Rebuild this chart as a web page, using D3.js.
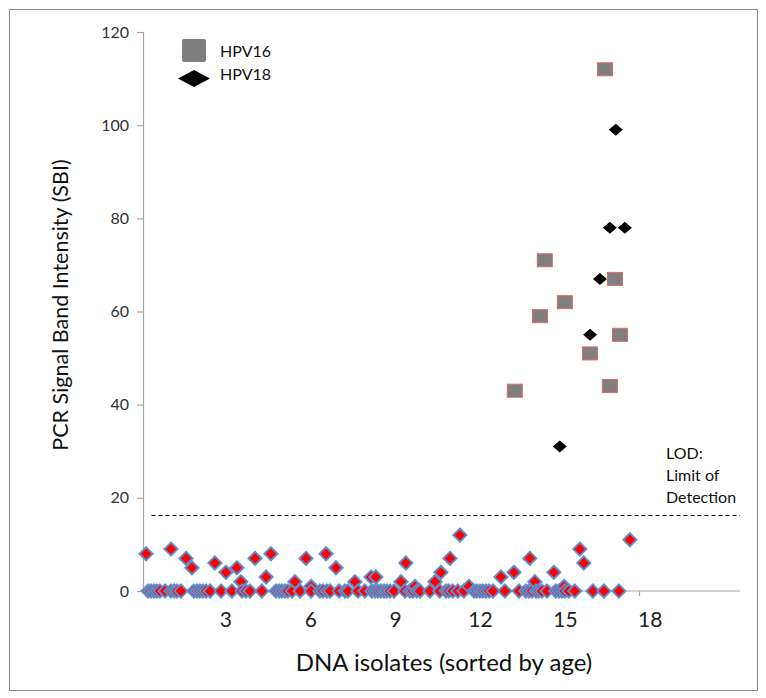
<!DOCTYPE html>
<html>
<head>
<meta charset="utf-8">
<script src="https://cdn.jsdelivr.net/npm/d3@7"></script>
<style>
  html, body { margin: 0; padding: 0; background: #fff; }
  svg { display: block; font-family: Lato, "Open Sans", sans-serif; }
</style>
</head>
<body>
<svg id="chart" width="766" height="698"></svg>
<script>
// HPV PCR signal by DNA isolate (sorted by age)
// x in isolate-axis units (same units as the 3..18 labels), y in SBI

// HPV16 positives
const hpv16X = [16.33, 14.2, 14.03, 14.91, 13.14, 16.68, 15.8, 16.86, 16.5];
const hpv16SBI = [112, 71, 59, 62, 43, 67, 51, 55, 44];

// HPV18 positives
const hpv18X = [16.71, 16.5, 17.03, 16.15, 15.8, 14.73];
const hpv18SBI = [99, 78, 78, 67, 55, 31];

// below-LOD isolates with a faint signal
const lowX = [0.11, 0.99, 1.52, 1.73, 2.54, 2.93, 3.32, 3.46, 3.96, 4.35, 4.52, 5.37,
  5.76, 5.94, 6.47, 6.82, 7.49, 8.06, 8.23, 9.12, 9.29, 9.61, 10.32, 10.53, 10.85,
  11.2, 11.52, 12.65, 13.11, 13.67, 13.85, 14.52, 14.88, 15.44, 15.58, 17.21];
const lowSBI = [8, 9, 7, 5, 6, 4, 5, 2, 7, 3, 8, 2, 7, 1, 8, 5, 2, 3, 3, 2, 6, 1, 2, 4, 7,
  12, 1, 3, 4, 7, 2, 4, 1, 9, 6, 11];

// isolates with no signal (SBI = 0)
const zeroX = [0.18, 0.28, 0.39, 0.49, 0.6, 0.78, 0.99, 1.1, 1.2, 1.34, 1.8, 1.91, 2.01,
  2.12, 2.23, 2.37, 2.76, 3.14, 3.5, 3.64, 3.78, 4.2, 4.7, 4.81, 4.91, 5.02, 5.12, 5.27,
  5.55, 5.94, 6.25, 6.36, 6.5, 6.61, 6.93, 7.14, 7.24, 7.6, 7.84, 8.09, 8.2, 8.3, 8.41,
  8.52, 8.62, 8.73, 8.87, 9.26, 9.43, 9.54, 9.68, 9.79, 10.14, 10.49, 10.71, 10.81,
  10.95, 11.13, 11.34, 11.7, 11.8, 11.91, 12.01, 12.12, 12.23, 12.37, 12.79, 13.29,
  13.53, 13.64, 13.75, 13.89, 13.99, 14.1, 14.28, 14.59, 14.7, 14.81, 14.91, 15.05,
  15.26, 15.9, 16.29, 16.82];

const xTicks = [3, 6, 9, 12, 15, 18];
const yTicks = [0, 20, 40, 60, 80, 100, 120];
const lod = 16.2;
const lodLabel = ["LOD:", "Limit of", "Detection"];
const legendItems = ["HPV16", "HPV18"];

const svg = d3.select("#chart");

// outer frame
svg.append("rect")
  .attr("x", 9.5).attr("y", 9.5).attr("width", 748).attr("height", 681)
  .attr("fill", "none").attr("stroke", "#8c8c8c").attr("stroke-width", 1);

const x = d3.scaleLinear().domain([0, 21.1]).range([143, 740]);
const y = d3.scaleLinear().domain([0, 120]).range([591, 32]);

// y axis
const yAxis = svg.append("g")
  .attr("transform", `translate(${x(0)},0)`)
  .call(d3.axisLeft(y).tickValues(yTicks).tickSize(6).tickPadding(8));
yAxis.select(".domain").attr("stroke", "#a6a6a6").attr("stroke-width", 1.2);
yAxis.selectAll(".tick line").attr("stroke", "#a6a6a6").attr("stroke-width", 1.2);
yAxis.selectAll(".tick text")
  .attr("font-size", 16).attr("fill", "#333").attr("font-family", "Lato, sans-serif");

// x axis (line + one stray tick like the original, labels placed on the scale)
const xAxis = svg.append("g")
  .attr("transform", `translate(0,${y(0)})`)
  .call(d3.axisBottom(x).tickValues([17.53]).tickSize(5).tickFormat(""));
xAxis.select(".domain").attr("stroke", "#a6a6a6").attr("stroke-width", 1.2)
  .attr("d", `M${x(0)},0H${x(21.1)}`);
xAxis.selectAll(".tick line").attr("stroke", "#a6a6a6").attr("stroke-width", 1.2);

svg.append("g").selectAll("text")
  .data(xTicks)
  .join("text")
  .attr("x", (d) => x(d) - 2)
  .attr("y", 627)
  .attr("text-anchor", "middle")
  .attr("font-size", 21)
  .attr("fill", "#222")
  .text((d) => d);

// axis titles
svg.append("text")
  .attr("transform", `translate(68,305) rotate(-90)`)
  .attr("text-anchor", "middle")
  .attr("font-size", 21.5)
  .attr("fill", "#111")
  .text("PCR Signal Band Intensity (SBI)");

svg.append("text")
  .attr("x", 444).attr("y", 671)
  .attr("text-anchor", "middle")
  .attr("font-size", 24)
  .attr("fill", "#111")
  .text("DNA isolates (sorted by age)");

// LOD line + label
svg.append("line")
  .attr("x1", x(0.3)).attr("x2", x(21.1))
  .attr("y1", y(lod)).attr("y2", y(lod))
  .attr("stroke", "#000").attr("stroke-width", 1)
  .attr("stroke-dasharray", "4,3");

svg.append("g").selectAll("text")
  .data(lodLabel)
  .join("text")
  .attr("x", 666)
  .attr("y", (d, i) => 459 + i * 22)
  .attr("font-size", 16)
  .attr("fill", "#111")
  .text((d) => d);

// negatives (below LOD), drawn left to right so later points overlap earlier ones
const negatives = lowX.map((v, i) => ({ x: v, v: lowSBI[i] }))
  .concat(zeroX.map((v) => ({ x: v, v: 0 })))
  .sort((a, b) => a.x - b.x);

const diamond = (r) => `M0,${-r}L${r},0L0,${r}L${-r},0Z`;

svg.append("g").selectAll("path")
  .data(negatives)
  .join("path")
  .attr("transform", (d) => `translate(${x(d.x)},${y(d.v)})`)
  .attr("d", diamond(6.6))
  .attr("fill", "#ff0000")
  .attr("stroke", "#5b8fd0")
  .attr("stroke-width", 1.9);

// HPV16 squares
const sq = hpv16X.map((v, i) => ({ x: v, v: hpv16SBI[i] }));
svg.append("g").selectAll("rect")
  .data(sq)
  .join("rect")
  .attr("x", (d) => x(d.x) - 7.5)
  .attr("y", (d) => y(d.v) - 6.5)
  .attr("width", 15).attr("height", 13)
  .attr("fill", "#7f7f7f")
  .attr("stroke", "#e06666")
  .attr("stroke-width", 1);

// HPV18 diamonds
const dm = hpv18X.map((v, i) => ({ x: v, v: hpv18SBI[i] }));
svg.append("g").selectAll("path")
  .data(dm)
  .join("path")
  .attr("transform", (d) => `translate(${x(d.x)},${y(d.v)})`)
  .attr("d", "M0,-6L7,0L0,6L-7,0Z")
  .attr("fill", "#000");

// legend
const lg = svg.append("g");
lg.append("rect")
  .attr("x", 182).attr("y", 39).attr("width", 24).attr("height", 23).attr("rx", 2)
  .attr("fill", "#7f7f7f");
lg.append("path")
  .attr("d", "M194,70L210,78.5L194,87L178,78.5Z")
  .attr("fill", "#000");
lg.selectAll("text")
  .data(legendItems)
  .join("text")
  .attr("x", 220)
  .attr("y", (d, i) => 57 + i * 23)
  .attr("font-size", 16)
  .attr("fill", "#111")
  .text((d) => d);
</script>
</body>
</html>
